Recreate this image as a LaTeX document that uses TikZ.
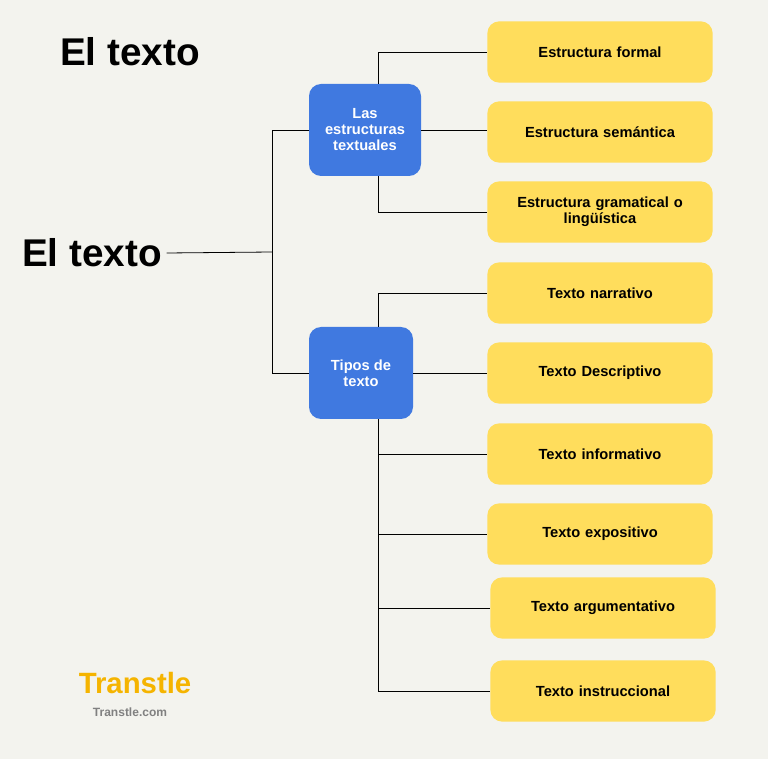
\documentclass[tikz,border=0pt]{standalone}
\usepackage{fontspec}
\setmainfont{Liberation Sans}
\definecolor{bgcol}{HTML}{F3F3EE}
\definecolor{leafcol}{HTML}{FFDD5C}
\definecolor{hubcol}{HTML}{4079E0}
\definecolor{brandcol}{HTML}{F5B400}
\tikzset{
  leaf/.style={fill=leafcol, rounded corners=9pt, minimum width=169pt, minimum height=46pt, align=center, font=\bfseries\fontsize{11}{12}\selectfont, text width=150pt},
  hub/.style={fill=hubcol, rounded corners=9pt, text=white, align=center, font=\bfseries\fontsize{11}{12}\selectfont},
  link/.style={draw=black, line width=0.6pt}
}
\begin{document}
\begin{tikzpicture}[x=0.75pt,y=-0.75pt]
  \fill[bgcol] (0,0) rectangle (768,759);
  \useasboundingbox (0,0) rectangle (768,759);
  % titles
  \node[font=\bfseries\fontsize{29}{32}\selectfont] (title) at (130,52) {El texto};
  \node[font=\bfseries\fontsize{29}{32}\selectfont] (root) at (92,253) {El texto};
  % hubs
  \node[hub, minimum width=84pt, minimum height=69pt] (estr) at (365,130) {Las\\estructuras\\textuales};
  \node[hub, minimum width=78pt, minimum height=69pt] (tipos) at (361,373) {Tipos de\\texto};
  % leaves
  \node[leaf] (formal) at (600,52) {Estructura formal};
  \node[leaf] (seman) at (600,132) {Estructura semántica};
  \node[leaf] (grama) at (600,212) {Estructura gramatical o\\lingüística};
  \node[leaf] (narra) at (600,293) {Texto narrativo};
  \node[leaf] (descr) at (600,373) {Texto Descriptivo};
  \node[leaf] (infor) at (600,454) {Texto informativo};
  \node[leaf] (expos) at (600,534) {Texto expositivo};
  \node[leaf] (argum) at (603,608) {Texto argumentativo};
  \node[leaf] (instr) at (603,691) {Texto instruccional};
  % connectors
  \coordinate (trunk) at (272,252);
  \coordinate (spine) at (378,0);
  \draw[link] (root.east) -- (trunk);
  \draw[link] (trunk) |- (estr.west);
  \draw[link] (trunk) |- (tipos.west);
  \draw[link] (estr.north -| spine) |- (formal.west);
  \draw[link] (estr.east) -- (seman.west |- estr.east);
  \draw[link] (estr.south -| spine) |- (grama.west);
  \draw[link] (tipos.north -| spine) |- (narra.west);
  \draw[link] (tipos.east) -- (descr.west);
  \draw[link] (tipos.south -| spine) |- (instr.west);
  \foreach \leafname in {infor, expos, argum}
    \draw[link] (\leafname.west -| spine) -- (\leafname.west);
  % brand
  \node[font=\bfseries\fontsize{22}{26}\selectfont, text=brandcol] (brand) at (135,683) {Transtle};
  \node[font=\bfseries\small, text=gray] (site) at (130,712) {Transtle.com};
\end{tikzpicture}
\end{document}
